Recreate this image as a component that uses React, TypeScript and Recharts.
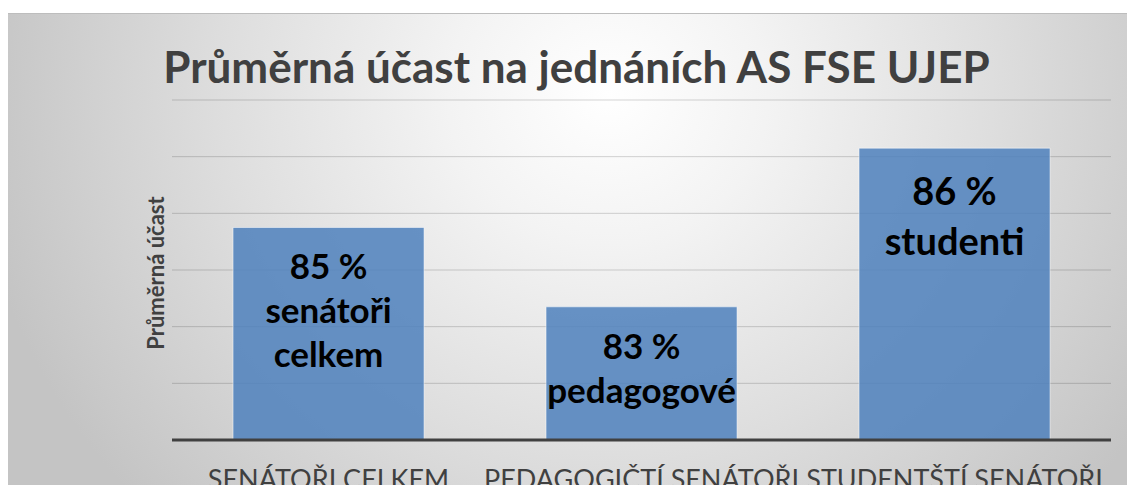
import React from 'react';
import { BarChart, Bar, XAxis, YAxis, CartesianGrid, LabelList } from 'recharts';

const categories = ['SENÁTOŘI CELKEM', 'PEDAGOGIČTÍ SENÁTOŘI', 'STUDENTŠTÍ SENÁTOŘI'];
const attendance = [84.75, 83.35, 86.15];
const groupNames = [['senátoři', 'celkem'], ['pedagogové'], ['studenti']];
const yTicks = [81, 82, 83, 84, 85, 86, 87];

const TITLE = 'Průměrná účast na jednáních AS FSE UJEP';
const Y_LABEL = 'Průměrná účast';

const data = categories.map((name, i) => ({
  name,
  value: attendance[i],
  lines: [`${Math.round(attendance[i])} %`, ...groupNames[i]],
}));

const FONT = 'Lato, "Open Sans", sans-serif';
// Excel rendered the third label a bit bigger
const LABEL_SIZES = [35, 35, 38];
const LINE_GAP = [44, 44, 50];
const FIRST_LINE = [51, 52, 57];

const BarLabel = (props: any) => {
  const { x, y, width, index } = props;
  const lines: string[] = data[index].lines;
  const size = LABEL_SIZES[index];
  return (
    <text
      x={x + width / 2}
      y={y + FIRST_LINE[index]}
      textAnchor="middle"
      fontFamily={FONT}
      fontWeight={700}
      fontSize={size}
      fill="#000"
    >
      {lines.map((l, i) => (
        <tspan key={i} x={x + width / 2} dy={i === 0 ? 0 : LINE_GAP[index]}>
          {l}
        </tspan>
      ))}
    </text>
  );
};

const CategoryTick = ({ x, y, payload }: any) => (
  <text x={x} y={y + 41} textAnchor="middle" fontFamily={FONT} fontSize={27} fill="#404040">
    {payload.value}
  </text>
);

const App: React.FC = () => {
  return (
    <div
      style={{
        position: 'absolute',
        left: 8,
        top: 13,
        width: 1125,
        height: 480,
        overflow: 'hidden',
        borderTop: '1px solid #bdbdbd',
        background:
          'radial-gradient(ellipse 640px 600px at 600px 80px, #ffffff 0%, #f3f3f3 25%, #dedede 60%, #c4c4c4 100%)',
      }}
    >
      <div
        style={{
          position: 'absolute',
          left: 0,
          width: 1137,
          top: 26,
          textAlign: 'center',
          fontFamily: FONT,
          fontWeight: 700,
          fontSize: 44,
          color: '#404040',
          whiteSpace: 'nowrap',
        }}
      >
        {TITLE}
      </div>
      <div
        style={{
          position: 'absolute',
          left: 147,
          top: 259,
          transform: 'translate(-50%, -50%) rotate(-90deg)',
          fontFamily: FONT,
          fontWeight: 700,
          fontSize: 22,
          color: '#404040',
          whiteSpace: 'nowrap',
        }}
      >
        {Y_LABEL}
      </div>
      <BarChart
        width={1125}
        height={520}
        data={data}
        margin={{ top: 87, right: 22, left: 164, bottom: 0 }}
        barCategoryGap="19.5%"
        style={{ position: 'absolute', left: 0, top: -1 }}
      >
        <CartesianGrid vertical={false} stroke="#000" strokeOpacity={0.17} />
        <XAxis
          dataKey="name"
          axisLine={{ stroke: '#404040', strokeWidth: 3 }}
          tickLine={false}
          tick={<CategoryTick />}
          height={93}
          interval={0}
        />
        <YAxis hide domain={[81, 87]} ticks={yTicks} allowDataOverflow />
        <Bar
          dataKey="value"
          fill="#4f81bd"
          fillOpacity={0.86}
          stroke="#ffffff"
          strokeOpacity={0.5}
          isAnimationActive={false}
        >
          <LabelList dataKey="value" content={<BarLabel />} />
        </Bar>
      </BarChart>
    </div>
  );
};

export default App;
